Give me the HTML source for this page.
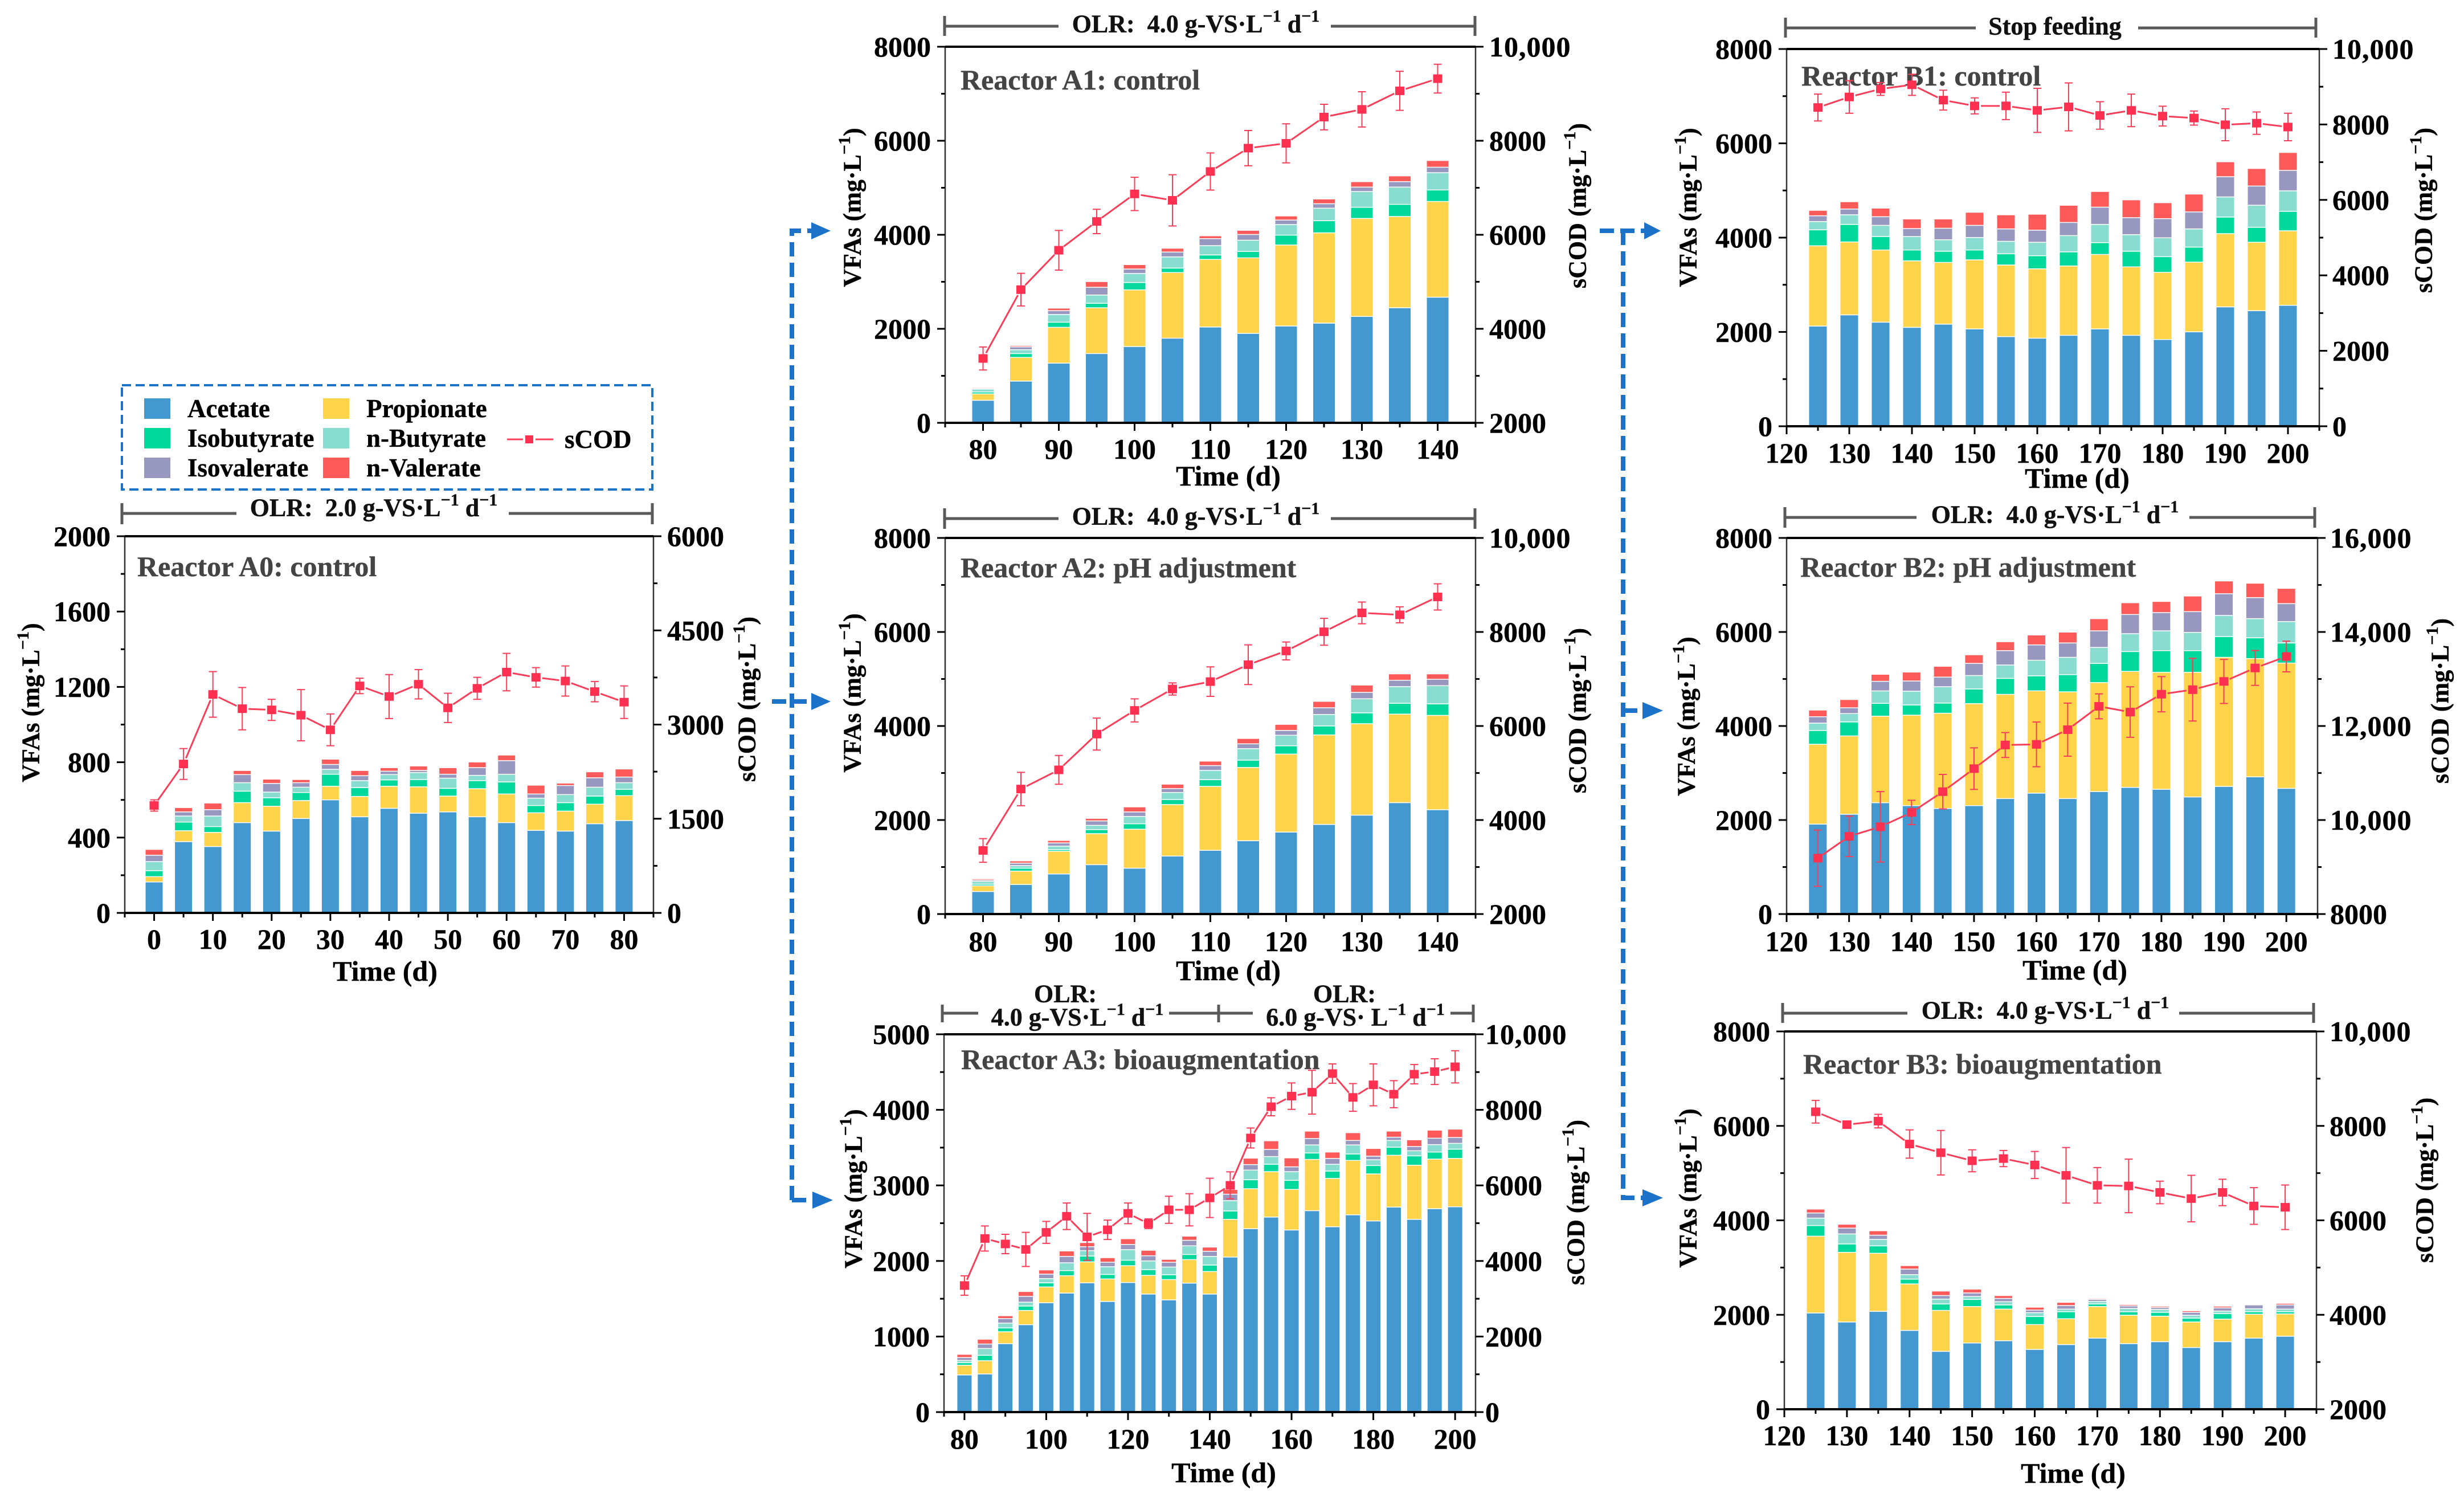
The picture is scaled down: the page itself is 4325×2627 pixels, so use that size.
<!DOCTYPE html>
<html lang="en">
<head>
<meta charset="utf-8">
<title>VFAs and sCOD in reactors A0-A3 and B1-B3</title>
<style>
html,body{margin:0;padding:0;background:#fff;width:4325px;height:2627px;overflow:hidden}
svg{display:block}
text{font-family:"Liberation Serif",serif;font-weight:bold;fill:#000;stroke:#000;stroke-width:.4;dominant-baseline:central}
.olr{font-size:44px;fill:#111;text-anchor:middle}
.sup{font-size:30px}
.lg{font-size:45px}
.flow{fill:none;stroke:#1c72c9;stroke-width:8;stroke-dasharray:25 11}
.head{fill:#1c72c9}
.br{fill:none;stroke:#5a5a5a;stroke-width:5}
</style>
</head>
<body>
<svg id="figure" xmlns="http://www.w3.org/2000/svg" width="4325" height="2627" viewBox="0 0 4325 2627">
<rect x="0" y="0" width="4325" height="2627" fill="#fff"/>

<g>
<path class="flow" d="M1390 2106V405H1425"/>
<path class="flow" d="M1355 1231H1425"/>
<path class="flow" d="M1390 2106H1425"/>
<path class="head" d="M1424 390V420L1458 405Z"/>
<path class="head" d="M1424 1216V1246L1458 1231Z"/>
<path class="head" d="M1426 2091V2121L1462 2106Z"/>
<path class="flow" d="M2808 405H2886"/>
<path class="flow" d="M2849 405V2102H2884"/>
<path class="flow" d="M2849 1247H2884"/>
<path class="head" d="M2886 390V420L2915 405Z"/>
<path class="head" d="M2883 1232V1262L2919 1247Z"/>
<path class="head" d="M2883 2087V2117L2919 2102Z"/>
</g>

<g>
<rect x="214" y="676" width="931" height="183" fill="none" stroke="#1c72c9" stroke-width="4" stroke-dasharray="16 8"/>
<rect x="253" y="699" width="46" height="36" fill="#4399cf"/>
<text class="lg" x="329" y="717">Acetate</text>
<rect x="567" y="699" width="46" height="36" fill="#ffd34a"/>
<text class="lg" x="643" y="717">Propionate</text>
<rect x="253" y="751" width="46" height="36" fill="#00d89c"/>
<text class="lg" x="329" y="769">Isobutyrate</text>
<rect x="567" y="751" width="46" height="36" fill="#88dcd0"/>
<text class="lg" x="643" y="769">n-Butyrate</text>
<rect x="253" y="803" width="46" height="36" fill="#9797bf"/>
<text class="lg" x="329" y="821">Isovalerate</text>
<rect x="567" y="803" width="46" height="36" fill="#ff5a5a"/>
<text class="lg" x="643" y="821">n-Valerate</text>
<path d="M890 771H918M940 771H971" stroke="#f93e5a" stroke-width="3"/>
<rect x="922" y="764" width="14" height="14" fill="#ff3050"/>
<text class="lg" x="991" y="771">sCOD</text>
</g>

<g>
<path class="br" d="M214 883V920M214 901H415M893 901H1145M1145 883V920"/>
<text class="olr" x="656" y="891">OLR:&#160; 2.0 g-VS·L<tspan class="sup" dy="-14">−1</tspan><tspan dy="14"> d</tspan><tspan class="sup" dy="-14">−1</tspan></text>
<path class="br" d="M1658 28V63M1658 46H1858M2336 46H2589M2589 28V63"/>
<text class="olr" x="2099" y="42">OLR:&#160; 4.0 g-VS·L<tspan class="sup" dy="-14">−1</tspan><tspan dy="14"> d</tspan><tspan class="sup" dy="-14">−1</tspan></text>
<path class="br" d="M1658 892V928M1658 910H1858M2336 910H2589M2589 892V928"/>
<text class="olr" x="2099" y="906">OLR:&#160; 4.0 g-VS·L<tspan class="sup" dy="-14">−1</tspan><tspan dy="14"> d</tspan><tspan class="sup" dy="-14">−1</tspan></text>
<path class="br" d="M1654 1763V1794M1654 1778H1717M2052 1778H2199M2139 1763V1794M2546 1778H2586M2586 1763V1794"/>
<text class="olr" x="1870" y="1744">OLR:</text>
<text class="olr" x="1891" y="1785">4.0 g-VS·L<tspan class="sup" dy="-14">−1</tspan><tspan dy="14"> d</tspan><tspan class="sup" dy="-14">−1</tspan></text>
<text class="olr" x="2360" y="1744">OLR:</text>
<text class="olr" x="2379" y="1785">6.0 g-VS· L<tspan class="sup" dy="-14">−1</tspan><tspan dy="14"> d</tspan><tspan class="sup" dy="-14">−1</tspan></text>
<path class="br" d="M3134 31V66M3134 49H3468M3753 49H4065M4065 31V66"/>
<text class="olr" x="3607" y="46">Stop feeding</text>
<path class="br" d="M3133 890V926M3133 908H3364M3843 908H4063M4063 890V926"/>
<text class="olr" x="3607" y="903">OLR:&#160; 4.0 g-VS·L<tspan class="sup" dy="-14">−1</tspan><tspan dy="14"> d</tspan><tspan class="sup" dy="-14">−1</tspan></text>
<path class="br" d="M3129 1760V1795M3129 1778H3348M3825 1778H4061M4061 1760V1795"/>
<text class="olr" x="3590" y="1773">OLR:&#160; 4.0 g-VS·L<tspan class="sup" dy="-14">−1</tspan><tspan dy="14"> d</tspan><tspan class="sup" dy="-14">−1</tspan></text>
</g>
</svg>

<script>
// Values. "Top" arrays hold the cumulative stack height (mg/L) at the top of each acid.
const a0Days=[0,5,10,15,20,25,30,35,40,45,50,55,60,65,70,75,80];
const a0TopAcetate=[162,376,350,477,432,499,598,508,553,527,534,508,477,436,432,471,488];
const a0TopPropionate=[190,434,425,583,564,594,670,616,670,667,618,657,629,529,538,575,620];
const a0TopIsobutyrate=[222,480,456,644,609,637,734,663,704,706,659,700,693,568,583,618,654];
const a0TopButyrate=[270,512,512,689,639,665,760,700,732,743,713,728,734,607,626,665,689];
const a0TopIsovalerate=[304,534,546,732,685,689,786,726,750,754,734,769,806,629,674,715,719];
const a0TopValerate=[335,557,581,754,708,706,814,754,769,778,769,799,836,676,687,747,762];
const a0Scod=[1711,2372,3480,3253,3234,3149,2916,3616,3447,3642,3266,3577,3836,3752,3694,3525,3357];
const a0ScodErr=[90,246,363,337,168,408,253,123,350,233,233,175,298,155,240,162,259];
const a0XTicks=[0,10,20,30,40,50,60,70,80];
const a0LeftTicks=[0,400,800,1200,1600,2000];
const a0RightTicks=[0,1500,3000,4500,6000];

const a1Days=[80,85,90,95,100,105,110,115,120,125,130,135,140];
const a1TopAcetate=[470,878,1260,1464,1614,1791,2029,1893,2050,2111,2254,2438,2663];
const a1TopPropionate=[606,1382,2022,2438,2819,3187,3466,3500,3773,4032,4338,4379,4699];
const a1TopIsobutyrate=[647,1464,2131,2533,2976,3282,3561,3636,3984,4290,4576,4638,4944];
const a1TopButyrate=[708,1546,2295,2710,3167,3520,3759,3875,4208,4556,4910,5005,5312];
const a1TopIsovalerate=[729,1607,2377,2874,3262,3623,3909,3997,4304,4651,5005,5121,5428];
const a1TopValerate=[749,1634,2431,2996,3357,3705,3970,4086,4392,4753,5121,5244,5571];
const a1Scod=[3369,4833,5671,6283,6869,6733,7346,7843,7945,8504,8667,9062,9321];
const a1ScodErr=[245,347,422,259,354,545,395,375,415,272,375,415,306];
const a1XTicks=[80,90,100,110,120,130,140];
const a1LeftTicks=[0,2000,4000,6000,8000];
const a1RightTicks=[2000,4000,6000,8000,10000];

const a2Days=[80,85,90,95,100,105,110,115,120,125,130,135,140];
const a2TopAcetate=[469,619,843,1040,966,1224,1346,1550,1734,1897,2094,2360,2210];
const a2TopPropionate=[592,904,1326,1700,1795,2319,2706,3108,3393,3801,4039,4243,4216];
const a2TopIsobutyrate=[626,966,1360,1788,1911,2428,2849,3264,3570,3992,4270,4474,4461];
const a2TopButyrate=[687,1020,1435,1877,2067,2577,3046,3509,3794,4236,4570,4828,4848];
const a2TopIsovalerate=[714,1074,1503,1972,2162,2659,3148,3611,3896,4379,4706,4964,4984];
const a2TopValerate=[741,1122,1557,2026,2271,2754,3244,3726,4026,4515,4862,5100,5100];
const a2Scod=[3353,4659,5067,5828,6332,6787,6944,7304,7596,8004,8406,8365,8746];
const a2ScodErr=[252,354,306,340,245,129,313,422,190,286,231,170,279];
const a2XTicks=[80,90,100,110,120,130,140];
const a2LeftTicks=[0,2000,4000,6000,8000];
const a2RightTicks=[2000,4000,6000,8000,10000];

const a3Days=[80,85,90,95,100,105,110,115,120,125,130,135,140,145,150,155,160,165,170,175,180,185,190,195,200];
const a3TopAcetate=[486,499,900,1151,1441,1569,1705,1458,1709,1556,1479,1701,1556,2046,2421,2575,2404,2660,2447,2605,2524,2707,2545,2686,2711];
const a3TopPropionate=[614,674,1057,1339,1650,1799,1982,1756,1931,1803,1748,2012,1854,2545,2950,3176,2941,3338,3086,3325,3146,3393,3261,3342,3351];
const a3TopIsobutyrate=[648,746,1108,1398,1705,1867,2059,1816,2004,1880,1812,2080,1940,2656,3069,3274,3061,3423,3184,3410,3257,3500,3385,3436,3474];
const a3TopButyrate=[678,836,1172,1449,1761,1970,2131,1918,2144,1995,1914,2195,2055,2792,3197,3376,3176,3530,3274,3530,3334,3589,3453,3534,3551];
const a3TopIsovalerate=[716,895,1232,1526,1820,2055,2183,1978,2213,2063,1978,2268,2123,2878,3270,3470,3240,3615,3351,3589,3381,3632,3509,3619,3628];
const a3TopValerate=[759,959,1270,1590,1876,2127,2238,2038,2289,2136,2016,2323,2178,2941,3355,3585,3359,3713,3436,3692,3483,3713,3598,3726,3739];
const a3Scod=[3350,4595,4450,4305,4757,5183,4638,4825,5260,4987,5354,5354,5669,6002,7255,8082,8363,8466,8960,8329,8662,8414,8943,9011,9139];
const a3ScodErr=[256,332,256,452,290,350,622,256,273,128,358,426,520,358,264,239,350,580,256,367,554,358,256,341,426];
const a3XTicks=[80,100,120,140,160,180,200];
const a3LeftTicks=[0,1000,2000,3000,4000,5000];
const a3RightTicks=[0,2000,4000,6000,8000,10000];

const b1Days=[125,130,135,140,145,150,155,160,165,170,175,180,185,190,195,200];
const b1TopAcetate=[2115,2353,2197,2088,2156,2054,1892,1858,1919,2054,1919,1831,1993,2522,2441,2556];
const b1TopPropionate=[3817,3899,3729,3498,3465,3519,3410,3329,3390,3634,3370,3254,3471,4075,3892,4136];
const b1TopIsobutyrate=[4156,4271,4014,3729,3702,3729,3648,3607,3688,3885,3702,3587,3790,4427,4210,4549];
const b1TopButyrate=[4332,4475,4251,4014,3946,3993,3912,3892,4034,4271,4054,3987,4176,4854,4678,4983];
const b1TopIsovalerate=[4454,4597,4434,4183,4190,4251,4176,4149,4312,4637,4414,4393,4536,5282,5085,5417];
const b1TopValerate=[4570,4753,4617,4387,4387,4529,4475,4488,4678,4970,4793,4732,4915,5600,5458,5797];
const b1Scod=[8449,8729,8941,9051,8645,8492,8492,8373,8466,8238,8373,8221,8170,7992,8034,7932];
const b1ScodErr=[356,432,170,280,263,212,364,585,636,364,432,263,186,424,297,364];
const b1XTicks=[120,130,140,150,160,170,180,190,200];
const b1LeftTicks=[0,2000,4000,6000,8000];
const b1RightTicks=[0,2000,4000,6000,8000,10000];

const b2Days=[125,130,135,140,145,150,155,160,165,170,175,180,185,190,195,200];
const b2TopAcetate=[1903,2114,2359,2297,2236,2297,2447,2562,2447,2596,2685,2644,2481,2705,2909,2664];
const b2TopPropionate=[3602,3779,4200,4221,4262,4466,4663,4738,4717,4914,5152,5132,5132,5451,5424,5329];
const b2TopIsobutyrate=[3895,4078,4472,4438,4479,4778,5003,5057,5084,5322,5574,5594,5594,5893,5866,5757];
const b2TopButyrate=[4052,4255,4737,4731,4826,5064,5288,5390,5451,5662,5954,6015,5981,6342,6274,6212];
const b2TopIsovalerate=[4188,4378,4941,4948,5030,5322,5594,5716,5757,6015,6362,6403,6423,6804,6722,6593];
const b2TopValerate=[4330,4554,5091,5138,5261,5506,5784,5927,5988,6274,6613,6641,6756,7076,7028,6919];
const b2Scod=[9189,9652,9856,10161,10603,11093,11596,11609,11922,12418,12296,12676,12772,12948,13234,13478];
const b2ScodErr=[598,430,748,258,367,442,265,476,564,265,537,374,666,469,370,326];
const b2XTicks=[120,130,140,150,160,170,180,190,200];
const b2LeftTicks=[0,2000,4000,6000,8000];
const b2RightTicks=[8000,10000,12000,14000,16000];

const b3Days=[125,130,135,140,145,150,155,160,165,170,175,180,185,190,195,200];
const b3TopAcetate=[2029,1838,2063,1660,1216,1394,1442,1257,1360,1496,1380,1421,1298,1421,1496,1537];
const b3TopPropionate=[3655,3313,3293,2644,2084,2166,2111,1783,1906,2166,1981,1961,1838,1899,2002,2009];
const b3TopIsobutyrate=[3880,3491,3450,2746,2220,2316,2200,1954,2056,2220,2056,2043,1920,2015,2056,2056];
const b3TopButyrate=[4038,3703,3587,2842,2323,2378,2268,2036,2111,2275,2125,2104,1981,2070,2118,2111];
const b3TopIsovalerate=[4147,3826,3676,2958,2398,2453,2337,2091,2186,2316,2179,2145,2043,2138,2200,2200];
const b3TopValerate=[4229,3908,3771,3033,2494,2535,2398,2152,2255,2337,2207,2173,2077,2173,2214,2234];
const b3Scod=[8299,8026,8101,7616,7432,7261,7308,7172,6953,6741,6728,6591,6461,6591,6304,6277];
const b3ScodErr=[239,70,143,300,471,232,171,287,588,376,567,239,492,280,389,471];
const b3XTicks=[120,130,140,150,160,170,180,190,200];
const b3LeftTicks=[0,2000,4000,6000,8000];
const b3RightTicks=[2000,4000,6000,8000,10000];

const seriesKeys=['acetate','propionate','isobutyrate','n-butyrate','isovalerate','n-valerate'];
const seriesColors=['#4399cf','#ffd34a','#00d89c','#88dcd0','#9797bf','#ff5a5a'];
const markerColor='#ff3050';
const lineColor='#f93e5a';
const NS='http://www.w3.org/2000/svg';
const fig=document.getElementById('figure');

const panels=[
 {id:'a0',title:'Reactor A0: control',L:219,R:1147,T:941,B:1602,xMin:-5,xMax:85,days:a0Days,stacks:[a0TopAcetate,a0TopPropionate,a0TopIsobutyrate,a0TopButyrate,a0TopIsovalerate,a0TopValerate],scod:a0Scod,err:a0ScodErr,xTicks:a0XTicks,leftTicks:a0LeftTicks,rightTicks:a0RightTicks,barW:30,titleX:241,titleY:994,tickDy:46,timeX:676,timeDy:102,vfaX:54,vfaY:1233,codX:1311,codY:1227,rGap:24},
 {id:'a1',title:'Reactor A1: control',L:1659,R:2590,T:82,B:742,xMin:75,xMax:145,days:a1Days,stacks:[a1TopAcetate,a1TopPropionate,a1TopIsobutyrate,a1TopButyrate,a1TopIsovalerate,a1TopValerate],scod:a1Scod,err:a1ScodErr,xTicks:a1XTicks,leftTicks:a1LeftTicks,rightTicks:a1RightTicks,barW:38,titleX:1686,titleY:140,tickDy:46,timeX:2156,timeDy:93,vfaX:1496,vfaY:364,codX:2769,codY:361,rGap:24},
 {id:'a2',title:'Reactor A2: pH adjustment',L:1659,R:2590,T:944,B:1604,xMin:75,xMax:145,days:a2Days,stacks:[a2TopAcetate,a2TopPropionate,a2TopIsobutyrate,a2TopButyrate,a2TopIsovalerate,a2TopValerate],scod:a2Scod,err:a2ScodErr,xTicks:a2XTicks,leftTicks:a2LeftTicks,rightTicks:a2RightTicks,barW:38,titleX:1686,titleY:996,tickDy:48,timeX:2156,timeDy:99,vfaX:1496,vfaY:1216,codX:2769,codY:1247,rGap:24},
 {id:'a3',title:'Reactor A3: bioaugmentation',L:1657,R:2590,T:1815,B:2478,xMin:75,xMax:205,days:a3Days,stacks:[a3TopAcetate,a3TopPropionate,a3TopIsobutyrate,a3TopButyrate,a3TopIsovalerate,a3TopValerate],scod:a3Scod,err:a3ScodErr,xTicks:a3XTicks,leftTicks:a3LeftTicks,rightTicks:a3RightTicks,barW:25,titleX:1687,titleY:1859,tickDy:47,timeX:2148,timeDy:106,vfaX:1498,vfaY:2086,codX:2766,codY:2110,rGap:17},
 {id:'b1',title:'Reactor B1: control',L:3136,R:4071,T:86,B:748,xMin:120,xMax:205,days:b1Days,stacks:[b1TopAcetate,b1TopPropionate,b1TopIsobutyrate,b1TopButyrate,b1TopIsovalerate,b1TopValerate],scod:b1Scod,err:b1ScodErr,xTicks:b1XTicks,leftTicks:b1LeftTicks,rightTicks:b1RightTicks,barW:31,titleX:3162,titleY:133,tickDy:47,timeX:3646,timeDy:91,vfaX:2963,vfaY:364,codX:4254,codY:369,rGap:23},
 {id:'b2',title:'Reactor B2: pH adjustment',L:3136,R:4068,T:944,B:1604,xMin:120,xMax:205,days:b2Days,stacks:[b2TopAcetate,b2TopPropionate,b2TopIsobutyrate,b2TopButyrate,b2TopIsovalerate,b2TopValerate],scod:b2Scod,err:b2ScodErr,xTicks:b2XTicks,leftTicks:b2LeftTicks,rightTicks:b2RightTicks,barW:31,titleX:3160,titleY:995,tickDy:48,timeX:3642,timeDy:98,vfaX:2960,vfaY:1257,codX:4283,codY:1230,rGap:22},
 {id:'b3',title:'Reactor B3: bioaugmentation',L:3132,R:4066,T:1810,B:2473,xMin:120,xMax:205,days:b3Days,stacks:[b3TopAcetate,b3TopPropionate,b3TopIsobutyrate,b3TopButyrate,b3TopIsovalerate,b3TopValerate],scod:b3Scod,err:b3ScodErr,xTicks:b3XTicks,leftTicks:b3LeftTicks,rightTicks:b3RightTicks,barW:31,titleX:3165,titleY:1867,tickDy:46,timeX:3639,timeDy:112,vfaX:2963,vfaY:2085,codX:4256,codY:2071,rGap:23}
];

function make(tag,attrs,parent){
  const el=document.createElementNS(NS,tag);
  for(const k in attrs){el.setAttribute(k,attrs[k]);}
  parent.appendChild(el);
  return el;
}
function fmt(v){
  return v>=10000?String(v).replace(/(\d)(\d{3})$/,'$1,$2'):String(v);
}
function midpoints(t){
  const m=[];
  for(let i=0;i<t.length-1;i++){m.push((t[i]+t[i+1])/2);}
  return m;
}
function addTitle(group,text,x,y,name){
  const t=make('text',{x:x,y:y,'text-anchor':'middle','font-size':44,transform:'rotate(-90 '+x+' '+y+')'},group);
  
  
  t.appendChild(document.createTextNode(text+' (mg·L'));
  const s=make('tspan',{class:'sup',dy:-14},t);
  s.textContent='−1';
  const c=make('tspan',{dy:14},t);
  c.textContent=')';
}

function drawPanel(p){
  const g=make('g',{},fig);
  
  
  const xAt=d=>p.L+(d-p.xMin)*(p.R-p.L)/(p.xMax-p.xMin);
  const lMin=p.leftTicks[0],lMax=p.leftTicks[p.leftTicks.length-1];
  const rMin=p.rightTicks[0],rMax=p.rightTicks[p.rightTicks.length-1];
  const yL=v=>p.B-(v-lMin)*(p.B-p.T)/(lMax-lMin);
  const yR=v=>p.B-(v-rMin)*(p.B-p.T)/(rMax-rMin);

  const note=make('text',{x:p.titleX,y:p.titleY,'font-size':50,style:'fill:#444;stroke:#444'},g);
  
  
  note.textContent=p.title;

  p.days.forEach((d,i)=>{
    let prev=0;
    p.stacks.forEach((arr,s)=>{
      const top=arr[i];
      const y0=yL(prev),y1=yL(top);
      const gap=s===0?0:1.5;
      const r=make('rect',{x:xAt(d)-p.barW/2,y:Math.min(y0,y1),width:p.barW,height:Math.max(0,Math.abs(y0-y1)-gap),fill:seriesColors[s]},g);
      
      
      prev=top;
    });
  });

  const axisLine=(x1,y1,x2,y2,w,color,name)=>{
    const l=make('line',{x1:x1,y1:y1,x2:x2,y2:y2,stroke:color,'stroke-width':w},g);
    
    
  };
  axisLine(p.L,p.T,p.L,p.B,2.5,'#333','left-axis-line-'+p.id);
  axisLine(p.R,p.T,p.R,p.B,2.5,'#333','right-axis-line-'+p.id);
  axisLine(p.L,p.T,p.R,p.T,4,'#000','top-axis-line-'+p.id);
  axisLine(p.L,p.B,p.R,p.B,4,'#000','bottom-axis-line-'+p.id);

  const tick=(x1,y1,x2,y2,name)=>{
    const l=make('line',{x1:x1,y1:y1,x2:x2,y2:y2,stroke:'#000','stroke-width':3},g);
    
    
  };
  const xMinors=midpoints(p.xTicks).concat([p.xMin,p.xMax].filter(v=>p.xTicks.indexOf(v)<0));
  xMinors.forEach(v=>tick(xAt(v),p.B,xAt(v),p.B+8,'x-minor-tick-'+p.id));
  p.xTicks.forEach(v=>{
    tick(xAt(v),p.B,xAt(v),p.B+14,'x-tick-'+p.id+'-'+v);
    const t=make('text',{x:xAt(v),y:p.B+p.tickDy,'text-anchor':'middle','font-size':50},g);
    
    
    t.textContent=fmt(v);
  });
  midpoints(p.leftTicks).forEach(v=>tick(p.L,yL(v),p.L-7,yL(v),'left-minor-tick-'+p.id));
  p.leftTicks.forEach(v=>{
    tick(p.L,yL(v),p.L-14,yL(v),'left-tick-'+p.id+'-'+v);
    const t=make('text',{x:p.L-25,y:yL(v),'text-anchor':'end','font-size':50},g);
    
    
    t.textContent=fmt(v);
  });
  midpoints(p.rightTicks).forEach(v=>tick(p.R,yR(v),p.R+7,yR(v),'right-minor-tick-'+p.id));
  p.rightTicks.forEach(v=>{
    tick(p.R,yR(v),p.R+14,yR(v),'right-tick-'+p.id+'-'+v);
    const t=make('text',{x:p.R+p.rGap,y:yR(v),'text-anchor':'start','font-size':50,'letter-spacing':v>=10000?1:0},g);
    
    
    t.textContent=fmt(v);
  });

  const xt=make('text',{x:p.timeX,y:p.B+p.timeDy,'text-anchor':'middle','font-size':50},g);
  
  
  xt.textContent='Time (d)';
  addTitle(g,'VFAs',p.vfaX,p.vfaY,'left-axis-title-'+p.id);
  addTitle(g,'sCOD',p.codX,p.codY,'right-axis-title-'+p.id);

  p.days.forEach((d,i)=>{
    const x=xAt(d),up=yR(p.scod[i]+p.err[i]),dn=yR(p.scod[i]-p.err[i]);
    const e=make('path',{d:'M'+(x-7)+' '+up+'H'+(x+7)+'M'+x+' '+up+'V'+dn+'M'+(x-7)+' '+dn+'H'+(x+7),fill:'none',stroke:lineColor,'stroke-width':2},g);
    
    
  });
  // Line segments stop short of each marker, as in the reference.
  let seg='';
  for(let i=0;i<p.days.length-1;i++){
    const x0=xAt(p.days[i]),y0=yR(p.scod[i]),x1=xAt(p.days[i+1]),y1=yR(p.scod[i+1]);
    const len=Math.hypot(x1-x0,y1-y0)||1;
    const ux=(x1-x0)/len,uy=(y1-y0)/len,pad=Math.min(11,len/3);
    seg+='M'+(x0+ux*pad)+' '+(y0+uy*pad)+'L'+(x1-ux*pad)+' '+(y1-uy*pad);
  }
  const line=make('path',{d:seg,fill:'none',stroke:lineColor,'stroke-width':3},g);
  
  
  p.days.forEach((d,i)=>{
    const m=make('rect',{x:xAt(d)-8,y:yR(p.scod[i])-7.5,width:16,height:15,fill:markerColor},g);
    
    
  });
}
panels.forEach(drawPanel);
</script>
</body>
</html>
